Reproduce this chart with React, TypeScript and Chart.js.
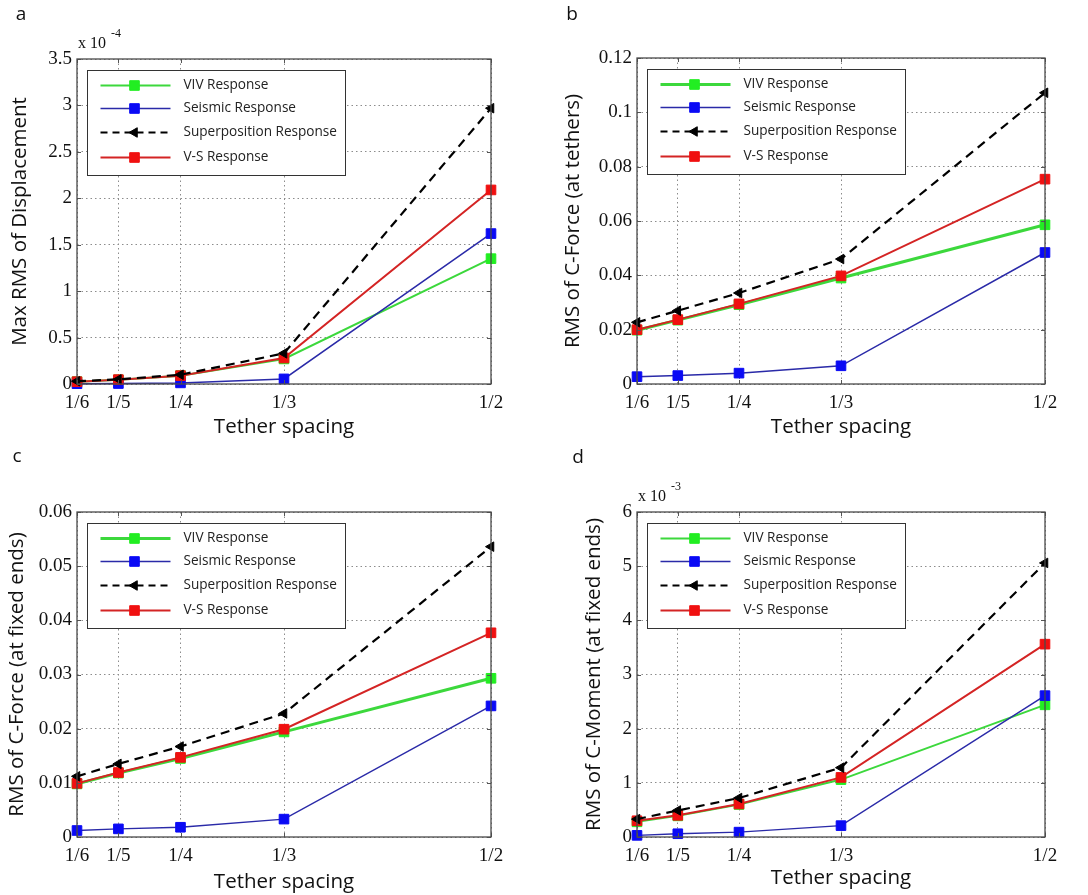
import React, { useEffect, useRef } from "react";
import { Chart, registerables } from "chart.js";

Chart.register(...registerables);

// ---------- data ----------
const xValues = [1 / 6, 1 / 5, 1 / 4, 1 / 3, 1 / 2];
const xTickLabels = ["1/6", "1/5", "1/4", "1/3", "1/2"];
const seriesNames = ["VIV Response", "Seismic Response", "Superposition Response", "V-S Response"];

// Panel a: Max RMS of Displacement (x 10^-4)
const aVIV = [0.025, 0.045, 0.09, 0.27, 1.35];
const aSeismic = [0.003, 0.005, 0.012, 0.055, 1.62];
const aSuper = [0.03, 0.05, 0.1, 0.33, 2.97];
const aVS = [0.025, 0.047, 0.09, 0.28, 2.09];
const aYTicks = [0, 0.5, 1, 1.5, 2, 2.5, 3, 3.5];
const aYTickLabels = ["0", "0.5", "1", "1.5", "2", "2.5", "3", "3.5"];

// Panel b: RMS of C-Force (at tethers)
const bVIV = [0.0198, 0.0235, 0.0292, 0.039, 0.0586];
const bSeismic = [0.0027, 0.0031, 0.004, 0.0067, 0.0484];
const bSuper = [0.0227, 0.027, 0.0335, 0.046, 0.1072];
const bVS = [0.02, 0.0237, 0.0295, 0.0398, 0.0754];
const bYTicks = [0, 0.02, 0.04, 0.06, 0.08, 0.1, 0.12];
const bYTickLabels = ["0", "0.02", "0.04", "0.06", "0.08", "0.1", "0.12"];

// Panel c: RMS of C-Force (at fixed ends)
const cVIV = [0.0098, 0.0118, 0.0145, 0.0194, 0.0293];
const cSeismic = [0.0012, 0.0015, 0.0018, 0.0033, 0.0242];
const cSuper = [0.0112, 0.0135, 0.0167, 0.0228, 0.0536];
const cVS = [0.0099, 0.0119, 0.0147, 0.0199, 0.0377];
const cYTicks = [0, 0.01, 0.02, 0.03, 0.04, 0.05, 0.06];
const cYTickLabels = ["0", "0.01", "0.02", "0.03", "0.04", "0.05", "0.06"];

// Panel d: RMS of C-Moment (at fixed ends) (x 10^-3)
const dVIV = [0.28, 0.39, 0.6, 1.06, 2.44];
const dSeismic = [0.03, 0.06, 0.09, 0.21, 2.61];
const dSuper = [0.33, 0.49, 0.72, 1.28, 5.06];
const dVS = [0.3, 0.4, 0.61, 1.1, 3.56];
const dYTicks = [0, 1, 2, 3, 4, 5, 6];
const dYTickLabels = ["0", "1", "2", "3", "4", "5", "6"];

const xTitle = "Tether spacing";

// ---------- panel layout ----------
type PanelCfg = {
  letter: string;
  canvas: { x: number; y: number; w: number; h: number };
  area: { l: number; t: number; r: number; b: number };
  yTitle: string;
  yTitlePad: number;
  xTitlePad: number;
  yTicks: number[];
  yLabels: string[];
  series: number[][];
  exponent: string | null;
  greenWidth: number;
  letterPos: [number, number];
};

const panels: PanelCfg[] = [
  {
    letter: "a",
    canvas: { x: 0, y: 0, w: 544, h: 440 },
    area: { l: 77, t: 59, r: 491, b: 384 },
    yTitle: "Max RMS of Displacement",
    yTitlePad: 8,
    xTitlePad: 1,
    yTicks: aYTicks,
    yLabels: aYTickLabels,
    series: [aVIV, aSeismic, aSuper, aVS],
    exponent: "-4",
    greenWidth: 2,
    letterPos: [21, 15],
  },
  {
    letter: "b",
    canvas: { x: 544, y: 0, w: 544, h: 440 },
    area: { l: 637, t: 58, r: 1045, b: 384 },
    yTitle: "RMS of C-Force (at tethers)",
    yTitlePad: 17,
    xTitlePad: 1,
    yTicks: bYTicks,
    yLabels: bYTickLabels,
    series: [bVIV, bSeismic, bSuper, bVS],
    exponent: null,
    greenWidth: 3,
    letterPos: [28, 15],
  },
  {
    letter: "c",
    canvas: { x: 0, y: 440, w: 544, h: 455 },
    area: { l: 77, t: 512, r: 491, b: 837 },
    yTitle: "RMS of C-Force (at fixed ends)",
    yTitlePad: 5,
    xTitlePad: 1,
    yTicks: cYTicks,
    yLabels: cYTickLabels,
    series: [cVIV, cSeismic, cSuper, cVS],
    exponent: null,
    greenWidth: 3,
    letterPos: [17, 17],
  },
  {
    letter: "d",
    canvas: { x: 544, y: 440, w: 544, h: 455 },
    area: { l: 637, t: 512, r: 1045, b: 837 },
    yTitle: "RMS of C-Moment (at fixed ends)",
    yTitlePad: 38,
    xTitlePad: 5,
    yTicks: dYTicks,
    yLabels: dYTickLabels,
    series: [dVIV, dSeismic, dSuper, dVS],
    exponent: "-3",
    greenWidth: 2,
    letterPos: [34, 18],
  },
];

const SERIF = "'Liberation Serif', 'Times New Roman', serif";
const SANS = "'Open Sans', 'Noto Sans', sans-serif";

const styles = [
  { line: "#3cd83c", marker: "#22ee22", width: 2, dash: [] as number[], style: "rect", radius: 6.8, order: 3 },
  { line: "#2a2aa8", marker: "#0a0af5", width: 1.5, dash: [] as number[], style: "rect", radius: 6.8, order: 2 },
  { line: "#000000", marker: "#000000", width: 2.2, dash: [9, 6], style: "triangle", radius: 5.5, order: 0 },
  { line: "#d42424", marker: "#f01010", width: 2, dash: [] as number[], style: "rect", radius: 6.8, order: 1 },
];

function drawMarker(ctx: CanvasRenderingContext2D, kind: string, x: number, y: number, r: number, color: string) {
  ctx.save();
  ctx.fillStyle = color;
  ctx.strokeStyle = color;
  ctx.setLineDash([]);
  ctx.lineWidth = 1;
  ctx.beginPath();
  if (kind === "rect") {
    const s = Math.SQRT1_2 * r;
    ctx.rect(x - s, y - s, 2 * s, 2 * s);
  } else {
    const h = r;
    ctx.moveTo(x - h, y);
    ctx.lineTo(x + h * 0.5, y - h * 0.866);
    ctx.lineTo(x + h * 0.5, y + h * 0.866);
    ctx.closePath();
  }
  ctx.fill();
  ctx.stroke();
  ctx.restore();
}

function makeDecor(cfg: PanelCfg) {
  return {
    id: "panelDecor" + cfg.letter,
    afterDraw(chart: any) {
      const ctx: CanvasRenderingContext2D = chart.ctx;
      const a = chart.chartArea;
      const xs = chart.scales.x;
      const ys = chart.scales.y;
      ctx.save();
      // inward ticks
      ctx.strokeStyle = "#555";
      ctx.lineWidth = 1;
      ctx.setLineDash([]);
      ctx.beginPath();
      xValues.forEach((v) => {
        const px = Math.round(xs.getPixelForValue(v)) + 0.5;
        ctx.moveTo(px, a.bottom);
        ctx.lineTo(px, a.bottom - 4);
        ctx.moveTo(px, a.top);
        ctx.lineTo(px, a.top + 4);
      });
      cfg.yTicks.forEach((v) => {
        const py = Math.round(ys.getPixelForValue(v)) + 0.5;
        ctx.moveTo(a.left, py);
        ctx.lineTo(a.left + 4, py);
        ctx.moveTo(a.right, py);
        ctx.lineTo(a.right - 4, py);
      });
      ctx.stroke();
      // frame
      ctx.strokeStyle = "#4a4a4a";
      ctx.lineWidth = 1.3;
      ctx.strokeRect(a.left, a.top, a.right - a.left, a.bottom - a.top);

      // legend
      const lx = Math.round(a.left + 10) + 0.5;
      const ly = Math.round(a.top + 11) + 0.5;
      const lw = 258;
      const lh = 105;
      ctx.fillStyle = "#ffffff";
      ctx.fillRect(lx, ly, lw, lh);
      ctx.strokeStyle = "#333";
      ctx.lineWidth = 1;
      ctx.strokeRect(lx, ly, lw, lh);
      const rowY = [15, 38, 62, 87];
      ctx.font = "13.6px " + SANS;
      ctx.textBaseline = "middle";
      ctx.textAlign = "left";
      seriesNames.forEach((name, i) => {
        const ds = chart.data.datasets[i];
        const st = styles[i];
        const y = ly + rowY[i];
        ctx.save();
        ctx.strokeStyle = ds.borderColor;
        ctx.lineWidth = ds.borderWidth;
        ctx.setLineDash(st.dash.length ? [7, 5] : []);
        ctx.beginPath();
        ctx.moveTo(lx + 13, y);
        ctx.lineTo(lx + 83, y);
        ctx.stroke();
        ctx.restore();
        drawMarker(ctx, st.style, lx + 47, y, st.radius, st.marker);
        ctx.fillStyle = "#222";
        ctx.fillText(name, lx + 96, y);
      });

      // panel letter
      ctx.fillStyle = "#111";
      ctx.font = "19px " + SANS;
      ctx.textAlign = "center";
      ctx.textBaseline = "middle";
      ctx.fillText(cfg.letter, cfg.letterPos[0], cfg.letterPos[1]);

      // exponent multiplier
      if (cfg.exponent) {
        ctx.textAlign = "left";
        ctx.textBaseline = "alphabetic";
        ctx.font = "16px " + SERIF;
        ctx.fillText("x 10", a.left + 1, a.top - 11);
        ctx.font = "12px " + SERIF;
        ctx.fillText(cfg.exponent, a.left + 34, a.top - 22);
      }
      ctx.restore();
    },
  };
}

function buildConfig(cfg: PanelCfg): any {
  const c = cfg.canvas;
  const ar = cfg.area;
  const yAxisWidth = ar.l - c.x;
  const xAxisHeight = c.y + c.h - ar.b;
  const datasets = cfg.series.map((arr, i) => {
    const st = styles[i];
    return {
      label: seriesNames[i],
      data: xValues.map((x, j) => ({ x, y: arr[j] })),
      borderColor: st.line,
      borderWidth: i === 0 ? cfg.greenWidth : st.width,
      borderDash: st.dash,
      pointStyle: st.style,
      pointRotation: st.style === "triangle" ? -90 : 0,
      pointRadius: st.radius,
      pointHoverRadius: st.radius,
      pointBackgroundColor: st.marker,
      pointBorderColor: st.marker,
      pointBorderWidth: 1,
      fill: false,
      tension: 0,
      clip: false,
      order: st.order,
    };
  });
  const gridCommon = {
    color: "#8c8c8c",
    lineWidth: 1,
    drawTicks: false,
  };
  return {
    type: "line",
    data: { datasets },
    options: {
      animation: false,
      responsive: false,
      devicePixelRatio: 1,
      layout: {
        padding: { top: ar.t - c.y, right: c.x + c.w - ar.r, left: 0, bottom: 0 },
      },
      plugins: {
        legend: { display: false },
        tooltip: { enabled: false },
        title: { display: false },
      },
      scales: {
        x: {
          type: "linear",
          min: xValues[0],
          max: xValues[xValues.length - 1],
          afterBuildTicks: (s: any) => {
            s.ticks = xValues.map((v) => ({ value: v }));
          },
          afterFit: (s: any) => {
            s.height = xAxisHeight;
          },
          ticks: {
            autoSkip: false,
            maxRotation: 0,
            padding: 8,
            color: "#111",
            font: { family: SERIF, size: 19 },
            callback: (_v: any, i: number) => xTickLabels[i],
          },
          grid: gridCommon,
          border: { display: false, dash: [1.5, 3] },
          title: {
            display: true,
            text: xTitle,
            color: "#111",
            font: { family: SANS, size: 20.5 },
            padding: { top: 0, bottom: cfg.xTitlePad },
          },
        },
        y: {
          type: "linear",
          min: cfg.yTicks[0],
          max: cfg.yTicks[cfg.yTicks.length - 1],
          afterBuildTicks: (s: any) => {
            s.ticks = cfg.yTicks.map((v) => ({ value: v }));
          },
          afterFit: (s: any) => {
            s.width = yAxisWidth;
          },
          ticks: {
            autoSkip: false,
            padding: 5,
            color: "#111",
            font: { family: SERIF, size: 19 },
            callback: (_v: any, i: number) => cfg.yLabels[i],
          },
          grid: gridCommon,
          border: { display: false, dash: [1.5, 3] },
          title: {
            display: true,
            text: cfg.yTitle,
            color: "#111",
            font: { family: SANS, size: 20.5 },
            padding: { top: cfg.yTitlePad, bottom: 0 },
          },
        },
      },
    },
    plugins: [makeDecor(cfg)],
  };
}

function Panel({ cfg }: { cfg: PanelCfg }) {
  const ref = useRef<HTMLCanvasElement | null>(null);
  useEffect(() => {
    if (!ref.current) return;
    const chart = new Chart(ref.current, buildConfig(cfg));
    return () => chart.destroy();
  }, [cfg]);
  return (
    <canvas
      ref={ref}
      width={cfg.canvas.w}
      height={cfg.canvas.h}
      style={{
        position: "absolute",
        left: cfg.canvas.x,
        top: cfg.canvas.y,
        width: cfg.canvas.w,
        height: cfg.canvas.h,
      }}
    />
  );
}

export default function App() {
  return (
    <div
      style={{
        position: "fixed",
        left: 0,
        top: 0,
        width: 1088,
        height: 895,
        background: "#ffffff",
        overflow: "hidden",
      }}
    >
      {panels.map((p) => (
        <Panel key={p.letter} cfg={p} />
      ))}
    </div>
  );
}
